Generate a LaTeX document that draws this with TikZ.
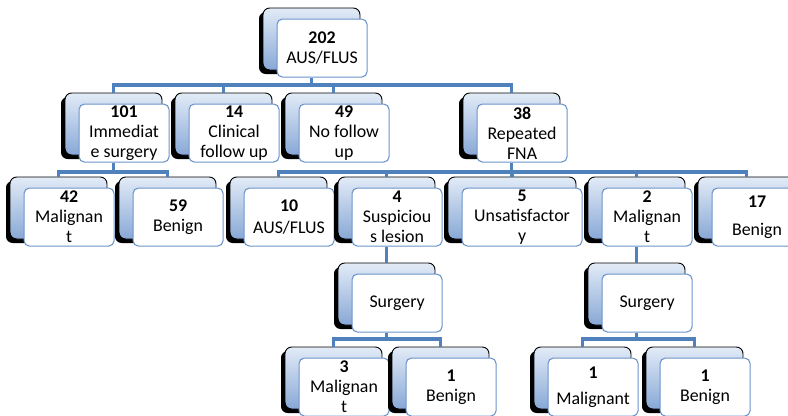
\documentclass[tikz,border=0pt]{standalone}
\usepackage{fontspec}
\setmainfont{Carlito}
\usetikzlibrary{shadows}
\definecolor{cardtop}{RGB}{226,235,247}
\definecolor{cardbot}{RGB}{136,168,214}
\definecolor{linkblue}{RGB}{79,129,189}
\definecolor{edgeblue}{RGB}{108,148,202}

\begin{document}
\begin{tikzpicture}[x=0.75pt,y=-0.75pt,
% back cards with the dark shadow:
card/.style = {rectangle, rounded corners=5pt, draw=black, line width=0.7pt,
            top color=cardtop, bottom color=cardbot,
            minimum width=72.75pt, minimum height=46.5pt, inner sep=0,
            drop shadow={shadow xshift=-3pt, shadow yshift=-3pt, fill=black, opacity=1}},
% white text boxes in front:
front/.style = {rectangle, rounded corners=4pt, draw=edgeblue, line width=0.8pt,
            fill=white, minimum width=67.5pt, minimum height=43.5pt, inner sep=1pt,
            align=center, anchor=north west, font=\fontsize{13.4}{15}\selectfont},
link/.style = {draw=linkblue, line width=2.4pt}]
\useasboundingbox (0,0) rectangle (788,415);
\clip (0,0) rectangle (788,415);
\node[card] (b202) at (311.5,39) {};
\node[front] (f202) at ([shift={(14,11)}]b202.north west) {\textbf{202}\\AUS/FLUS};
\node[card] (b101) at (113.5,124) {};
\node[front] (f101) at ([shift={(14,11)}]b101.north west) {\textbf{101}\\Immediat\\e surgery};
\node[card] (b14) at (223.5,124) {};
\node[front] (f14) at ([shift={(14,11)}]b14.north west) {\textbf{14}\\Clinical\\follow up};
\node[card] (b49) at (333.5,124) {};
\node[front] (f49) at ([shift={(14,11)}]b49.north west) {\textbf{49}\\No follow\\up};
\node[card] (b38) at (511.5,124) {};
\node[front] (f38) at ([shift={(14,11)}]b38.north west) {\textbf{38}\\Repeated\\FNA};
\node[card] (b42) at (58.5,208) {};
\node[front] (f42) at ([shift={(14,11)}]b42.north west) {\textbf{42}\\Malignan\\t};
\node[card] (b59) at (167.5,208) {};
\node[front] (f59) at ([shift={(14,11)}]b59.north west) {\textbf{59}\\Benign};
\node[card] (b10) at (278.5,208) {};
\node[front] (f10) at ([shift={(14,11)}]b10.north west) {\textbf{10}\\[2pt]AUS/FLUS};
\node[card] (b4) at (386.5,208) {};
\node[front] (f4) at ([shift={(14,11)}]b4.north west) {\textbf{4}\\Suspiciou\\s lesion};
\node[card,minimum width=96pt] (b5) at (512,208) {};
\node[front,minimum width=90pt] (f5) at ([shift={(14,11)}]b5.north west) {\textbf{5}\\Unsatisfactor\\y};
\node[card] (b2) at (636.5,208) {};
\node[front] (f2) at ([shift={(14,11)}]b2.north west) {\textbf{2}\\Malignan\\t};
\node[card] (b17) at (746.5,208) {};
\node[front] (f17) at ([shift={(14,11)}]b17.north west) {\textbf{17}\\[6.5pt]Benign};
\node[card] (bsa) at (386.5,294) {};
\node[front] (fsa) at ([shift={(14,11)}]bsa.north west) {Surgery};
\node[card] (bsb) at (636.5,294) {};
\node[front] (fsb) at ([shift={(14,11)}]bsb.north west) {Surgery};
\node[card] (b3) at (333.5,378) {};
\node[front] (f3) at ([shift={(14,11)}]b3.north west) {\textbf{3}\\Malignan\\t};
\node[card] (b1a) at (440.5,378) {};
\node[front] (f1a) at ([shift={(14,11)}]b1a.north west) {\textbf{1}\\Benign};
\node[card] (b1m) at (582.5,378) {};
\node[front] (f1m) at ([shift={(14,11)}]b1m.north west) {\textbf{1}\\[5pt]Malignant};
\node[card] (b1b) at (694.5,378) {};
\node[front] (f1b) at ([shift={(14,11)}]b1b.north west) {\textbf{1}\\Benign};
% bar heights
\coordinate (bar0) at (0,85);
\coordinate (bar1) at (0,172);
\coordinate (bar3) at (0,339);
\draw[link] (b202.center |- f202.south) -- (b202.center |- bar0) -| (b101.north);
\draw[link] (b202.center |- bar0) -| (b14.north);
\draw[link] (b202.center |- bar0) -| (b49.north);
\draw[link] (b202.center |- bar0) -| (b38.north);
\draw[link] (b101.center |- f101.south) -- (b101.center |- bar1) -| (b42.north);
\draw[link] (b101.center |- bar1) -| (b59.north);
\draw[link] (b38.center |- f38.south) -- (b38.center |- bar1) -| (b10.north);
\draw[link] (b38.center |- bar1) -| (b4.north);
\draw[link] (b38.center |- bar1) -| (b5.north);
\draw[link] (b38.center |- bar1) -| (b2.north);
\draw[link] (b38.center |- bar1) -| (b17.north);
\draw[link] (b4.center |- f4.south) -- (bsa.north);
\draw[link] (b2.center |- f2.south) -- (bsb.north);
\draw[link] (bsa.center |- fsa.south) -- (bsa.center |- bar3) -| (b3.north);
\draw[link] (bsa.center |- bar3) -| (b1a.north);
\draw[link] (bsb.center |- fsb.south) -- (bsb.center |- bar3) -| (b1m.north);
\draw[link] (bsb.center |- bar3) -| (b1b.north);
\end{tikzpicture}
\end{document}
